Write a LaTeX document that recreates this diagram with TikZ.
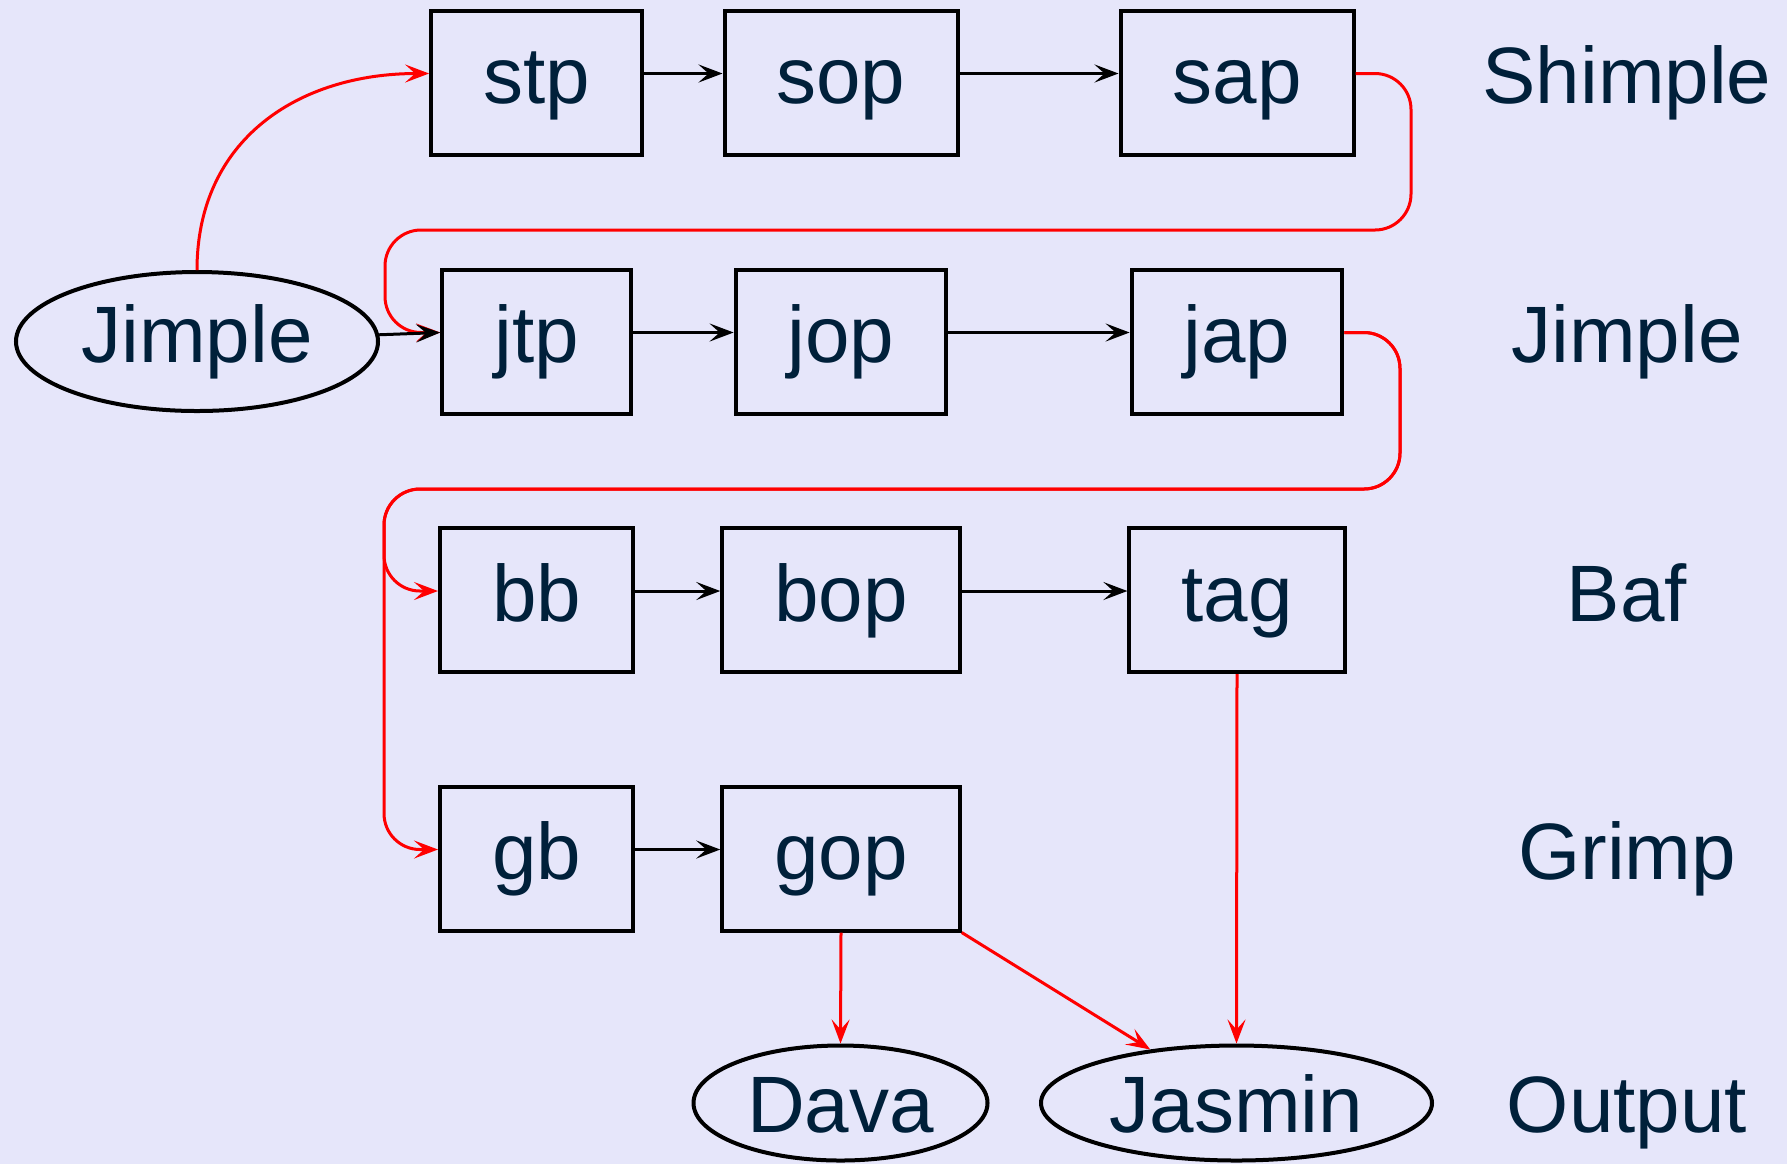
\documentclass[tikz,border=0pt]{standalone}
\usepackage{fontspec}
\setmainfont{Liberation Sans}
\usetikzlibrary{shapes.geometric,arrows.meta}
\definecolor{bgcol}{HTML}{E6E6FA}
\definecolor{txtcol}{HTML}{00203A}

\begin{document}
\begin{tikzpicture}[x=0.5pt,y=-0.5pt,
  every node/.style={font=\fontsize{40}{48}\selectfont, text=txtcol},
  stage/.style={draw=black, line width=2pt, rectangle, minimum height=72pt,
    inner xsep=26pt, inner ysep=0pt, text height=29pt, text depth=8pt},
  irnode/.style={draw=black, line width=2pt, ellipse, inner sep=0pt},
  level/.style={inner sep=0pt, text height=29pt, text depth=8pt},
  outtext/.style={text height=29pt, text depth=0pt},
  conn/.style={line width=1.5pt, -{Stealth[length=12pt,width=9pt,inset=5pt]}},
  redconn/.style={conn, draw=red},
  route/.style={redconn, rounded corners=18pt}]

% canvas
\fill[bgcol] (0,0) rectangle (1787,1164);
\useasboundingbox (0,0) rectangle (1787,1164);

% Shimple row
\node[stage] (stp) at (536.5,82.5) {stp};
\node[stage] (sop) at (841,82.5) {sop};
\node[stage] (sap) at (1237,82.5) {sap};
\node[level] (lshimple) at (1627,82.5) {Shimple};

% Jimple row
\node[irnode, minimum width=181pt, minimum height=69.5pt, text height=29pt, text depth=8pt] (jimple) at (197,341.5) {Jimple};
\node[stage] (jtp) at (536.5,341.5) {jtp};
\node[stage] (jop) at (841,341.5) {jop};
\node[stage] (jap) at (1237,341.5) {jap};
\node[level] (ljimple) at (1627,341.5) {Jimple};

% Baf row
\node[stage] (bb) at (536.5,600) {bb};
\node[stage] (bop) at (841,600) {bop};
\node[stage] (tag) at (1237,600) {tag};
\node[level] (lbaf) at (1627,600) {Baf};

% Grimp row
\node[stage] (gb) at (536.5,858.5) {gb};
\node[stage] (gop) at (841,858.5) {gop};
\node[level] (lgrimp) at (1627,858.5) {Grimp};

% Output row
\node[irnode, outtext, minimum width=147pt, minimum height=57.5pt] (dava) at (840.5,1103) {Dava};
\node[irnode, outtext, minimum width=195.5pt, minimum height=57.5pt] (jasmin) at (1236.5,1103) {Jasmin};
\node[level, outtext] (loutput) at (1627,1103) {Output};

% phase entry and hand-over between rows
\draw[redconn] (jimple.north) to[out=90,in=180,looseness=1.1] ([yshift=4.5pt]stp.west);
\draw[route] ([yshift=4.5pt]sap.east) -| (1411,230) -- (385,230) |- ([yshift=4.5pt]jtp.west);
\draw[route] ([yshift=4.5pt]jap.east) -| (1400,489) -- (384,489) |- ([yshift=4.5pt]bb.west);
\draw[route] ([yshift=4.5pt]jap.east) -| (1400,489) -- (384,489) |- ([yshift=4.5pt]gb.west);

% packs inside each row
\draw[conn] (jimple) -- ([yshift=4.5pt]jtp.west);
\draw[conn] ([yshift=4.5pt]stp.east) -- ([yshift=4.5pt]sop.west);
\draw[conn] ([yshift=4.5pt]sop.east) -- ([yshift=4.5pt]sap.west);
\draw[conn] ([yshift=4.5pt]jtp.east) -- ([yshift=4.5pt]jop.west);
\draw[conn] ([yshift=4.5pt]jop.east) -- ([yshift=4.5pt]jap.west);
\draw[conn] ([yshift=4.5pt]bb.east) -- ([yshift=4.5pt]bop.west);
\draw[conn] ([yshift=4.5pt]bop.east) -- ([yshift=4.5pt]tag.west);
\draw[conn] ([yshift=4.5pt]gb.east) -- ([yshift=4.5pt]gop.west);

% output generation
\draw[redconn] (tag.south) -- (jasmin.north);
\draw[redconn] (gop.south) -- (dava.north);
\draw[redconn] (gop.south east) -- (jasmin);
\end{tikzpicture}
\end{document}
